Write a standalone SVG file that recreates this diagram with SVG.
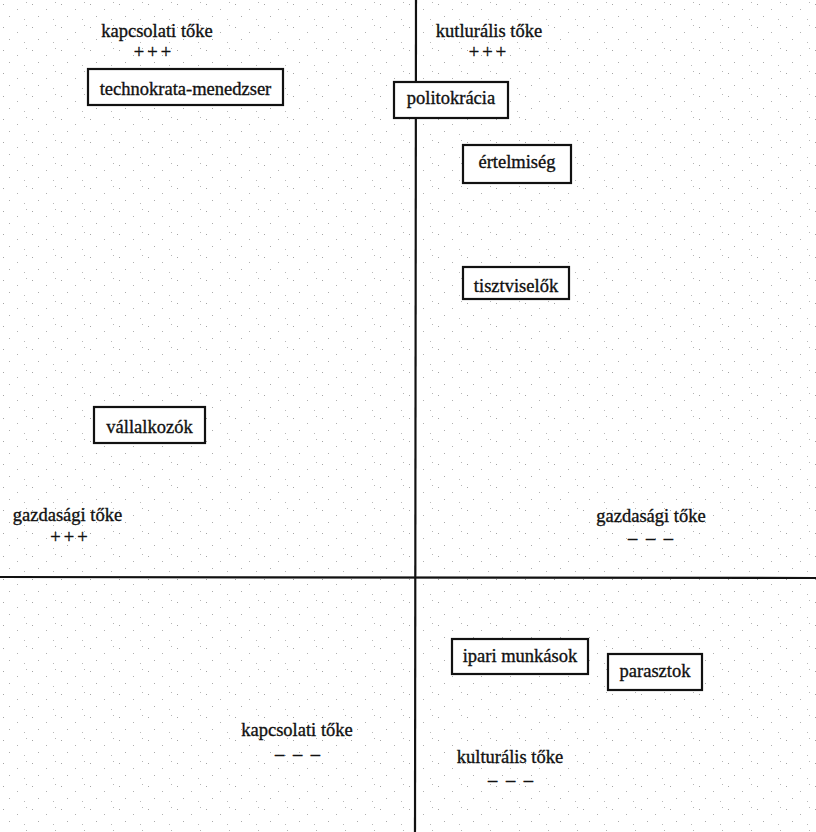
<svg xmlns="http://www.w3.org/2000/svg" width="816" height="832" viewBox="0 0 816 832">
<style>
.t{font-family:"Liberation Serif","Times New Roman",serif;font-size:18.5px;fill:#111;stroke:#111;stroke-width:0.35;text-anchor:middle}
.pm{letter-spacing:3px}
.dm{letter-spacing:2px}
.box{fill:#fff;stroke:#111;stroke-width:2.2}
.ax{stroke:#111;stroke-width:2.2;fill:none}
</style>
<defs>
<pattern id="dots" width="29" height="23" patternUnits="userSpaceOnUse">
<rect x="3" y="4" width="1" height="1" fill="#a4a4a4"/>
<rect x="17" y="9" width="1" height="1" fill="#b0b0b0"/>
<rect x="9" y="16" width="1" height="1" fill="#aaa"/>
<rect x="24" y="19" width="1" height="1" fill="#b8b8b8"/>
<rect x="26" y="2" width="1" height="1" fill="#b4b4b4"/>
</pattern>
</defs>
<rect width="816" height="832" fill="#fff"/>
<rect width="816" height="832" fill="url(#dots)"/>
<g id="axes">
<line class="ax" x1="416" y1="0" x2="415" y2="832"/>
<line class="ax" x1="0" y1="577" x2="816" y2="578"/>
</g>
<g id="labels">
<text class="t" x="157" y="37">kapcsolati tőke</text>
<text class="t pm" x="154" y="58">+++</text>
<text class="t" x="489" y="37">kutlurális tőke</text>
<text class="t pm" x="489" y="58">+++</text>
<text class="t" x="67.5" y="521">gazdasági tőke</text>
<text class="t pm" x="70.5" y="543">+++</text>
<text class="t" x="651" y="522">gazdasági tőke</text>
<text class="t dm" x="651.5" y="544">– – –</text>
<text class="t" x="297" y="736">kapcsolati tőke</text>
<text class="t dm" x="298.5" y="760">– – –</text>
<text class="t" x="510" y="763">kulturális tőke</text>
<text class="t dm" x="511.5" y="786">– – –</text>
</g>
<g id="technokrata-menedzser"><rect class="box" x="88" y="69" width="195" height="36"/><text class="t" x="185.5" y="95">technokrata-menedzser</text></g>
<g id="politokracia"><rect class="box" x="394" y="82" width="114" height="36"/><text class="t" x="451" y="104">politokrácia</text></g>
<g id="ertelmiseg"><rect class="box" x="463" y="145" width="108" height="38"/><text class="t" x="517" y="168">értelmiség</text></g>
<g id="tisztviselok"><rect class="box" x="463" y="267" width="106" height="32"/><text class="t" x="516" y="292">tisztviselők</text></g>
<g id="vallalkozok"><rect class="box" x="94" y="407" width="111" height="36"/><text class="t" x="149.5" y="433">vállalkozók</text></g>
<g id="ipari-munkasok"><rect class="box" x="452" y="639" width="136" height="35"/><text class="t" x="520" y="662">ipari munkások</text></g>
<g id="parasztok"><rect class="box" x="608" y="654" width="94" height="36"/><text class="t" x="655" y="677">parasztok</text></g>
</svg>
